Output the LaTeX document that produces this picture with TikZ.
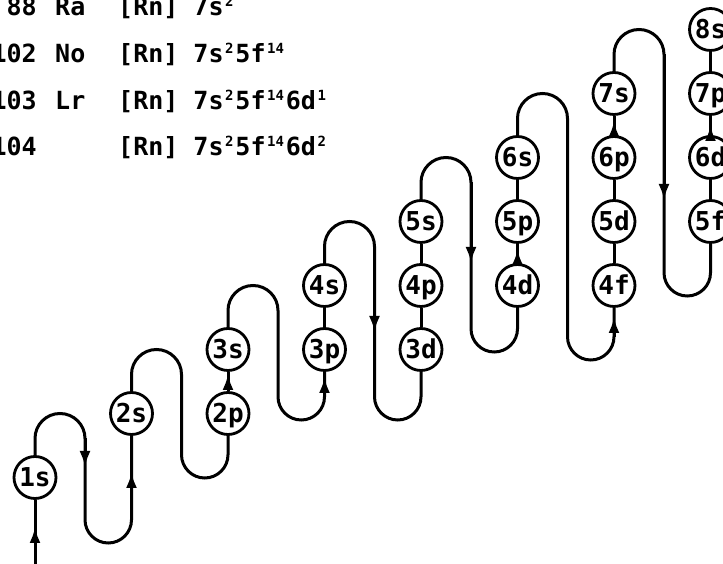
\documentclass[tikz,border=0pt]{standalone}
\usepackage{fontspec}
\newfontfamily\labfont{DejaVu Sans Mono}
\usetikzlibrary{arrows.meta}
\newcommand\sups[1]{\kern1.5pt\raisebox{9pt}{\fontsize{14}{14}\selectfont #1}\kern2pt}
\begin{document}
\begin{tikzpicture}[x=1pt,y=1pt,
  orb/.style={circle,draw,line width=2.8pt,minimum size=42pt,inner sep=0pt,
    text height=19pt,text depth=0pt,font={\labfont\bfseries\fontsize{26}{26}\selectfont}},
  snake/.style={line width=3pt},
  tipped/.style={line width=3pt,-{Latex[length=16pt,width=11pt]}},
  txt/.style={inner sep=0pt,font={\labfont\bfseries\fontsize{25}{25}\selectfont}}]
\useasboundingbox (0,0) rectangle (723,564);

% text block
\node[txt,anchor=base east] (z1) at (37,548) {88};
\node[txt,anchor=base west] (e1) at (55,548) {Ra};
\node[txt,anchor=base west] (k1) at (118,548) {[Rn] 7s\sups{2}};
\node[txt,anchor=base east] (z2) at (37,501) {102};
\node[txt,anchor=base west] (e2) at (55,501) {No};
\node[txt,anchor=base west] (k2) at (118,501) {[Rn] 7s\sups{2}5f\sups{14}};
\node[txt,anchor=base east] (z3) at (37,454) {103};
\node[txt,anchor=base west] (e3) at (55,454) {Lr};
\node[txt,anchor=base west] (k3) at (118,454) {[Rn] 7s\sups{2}5f\sups{14}6d\sups{1}};
\node[txt,anchor=base east] (z4) at (37,408) {104};
\node[txt,anchor=base west] (k4) at (118,408) {[Rn] 7s\sups{2}5f\sups{14}6d\sups{2}};

% orbitals
\node[orb] (n1s) at (35,86.5) {1s};
\node[orb] (n2s) at (131.5,150.5) {2s};
\node[orb] (n3s) at (228,214.5) {3s};
\node[orb] (n2p) at (228,150.5) {2p};
\node[orb] (n4s) at (324.5,278.5) {4s};
\node[orb] (n3p) at (324.5,214.5) {3p};
\node[orb] (n5s) at (421,342.5) {5s};
\node[orb] (n4p) at (421,278.5) {4p};
\node[orb] (n3d) at (421,214.5) {3d};
\node[orb] (n6s) at (517.5,406.5) {6s};
\node[orb] (n5p) at (517.5,342.5) {5p};
\node[orb] (n4d) at (517.5,278.5) {4d};
\node[orb] (n7s) at (614,470.5) {7s};
\node[orb] (n6p) at (614,406.5) {6p};
\node[orb] (n5d) at (614,342.5) {5d};
\node[orb] (n4f) at (614,278.5) {4f};
\node[orb] (n8s) at (710.5,534.5) {8s};
\node[orb] (n7p) at (710.5,470.5) {7p};
\node[orb] (n6d) at (710.5,406.5) {6d};
\node[orb] (n5f) at (710.5,342.5) {5f};

\coordinate (start) at (35,0);

% links inside columns
\draw[snake] (start) -- (n1s);
\draw[snake] (n2p) -- (n3s);
\draw[snake] (n3p) -- (n4s);
\draw[snake] (n3d) -- (n4p);
\draw[snake] (n4p) -- (n5s);
\draw[snake] (n4d) -- (n5p);
\draw[snake] (n5p) -- (n6s);
\draw[snake] (n4f) -- (n5d);
\draw[snake] (n5d) -- (n6p);
\draw[snake] (n6p) -- (n7s);
\draw[snake] (n5f) -- (n6d);
\draw[snake] (n6d) -- (n7p);
\draw[snake] (n7p) -- (n8s);

% loops between columns
\draw[snake] (n1s.north) -- (35,125.5) arc[start angle=180,end angle=0,radius=25]
  -- (85,44.25) arc[start angle=180,end angle=360,radius=23.25] -- (n2s.south);
\draw[snake] (n2s.north) -- (131.5,189.5) arc[start angle=180,end angle=0,radius=25]
  -- (181.5,109.25) arc[start angle=180,end angle=360,radius=23.25] -- (n2p.south);
\draw[snake] (n3s.north) -- (228,253.5) arc[start angle=180,end angle=0,radius=25]
  -- (278,167.25) arc[start angle=180,end angle=360,radius=23.25] -- (n3p.south);
\draw[snake] (n4s.north) -- (324.5,317.5) arc[start angle=180,end angle=0,radius=25]
  -- (374.5,167.25) arc[start angle=180,end angle=360,radius=23.25] -- (n3d.south);
\draw[snake] (n5s.north) -- (421,381.5) arc[start angle=180,end angle=0,radius=25]
  -- (471,235.25) arc[start angle=180,end angle=360,radius=23.25] -- (n4d.south);
\draw[snake] (n6s.north) -- (517.5,445.5) arc[start angle=180,end angle=0,radius=25]
  -- (567.5,227.25) arc[start angle=180,end angle=360,radius=23.25] -- (n4f.south);
\draw[snake] (n7s.north) -- (614,509.5) arc[start angle=180,end angle=0,radius=25]
  -- (664,291.25) arc[start angle=180,end angle=360,radius=23.25] -- (n5f.south);

% arrowheads
\draw[tipped] (start) -- (35,37);
\draw[tipped] (85,125.5) -- (85,97);
\draw[tipped] (131.5,44.25) -- (131.5,92);
\draw[tipped] (n2p.north) -- (228,190);
\draw[tipped] (324.5,167.25) -- (324.5,187);
\draw[tipped] (374.5,317.5) -- (374.5,232);
\draw[tipped] (471,381.5) -- (471,301);
\draw[tipped] (n4d.north) -- (517.5,315);
\draw[tipped] (614,227.25) -- (614,247);
\draw[tipped] (n6p.north) -- (614,443);
\draw[tipped] (664,509.5) -- (664,364);
\draw[tipped] (n6d.north) -- (710.5,439);
\end{tikzpicture}
\end{document}
